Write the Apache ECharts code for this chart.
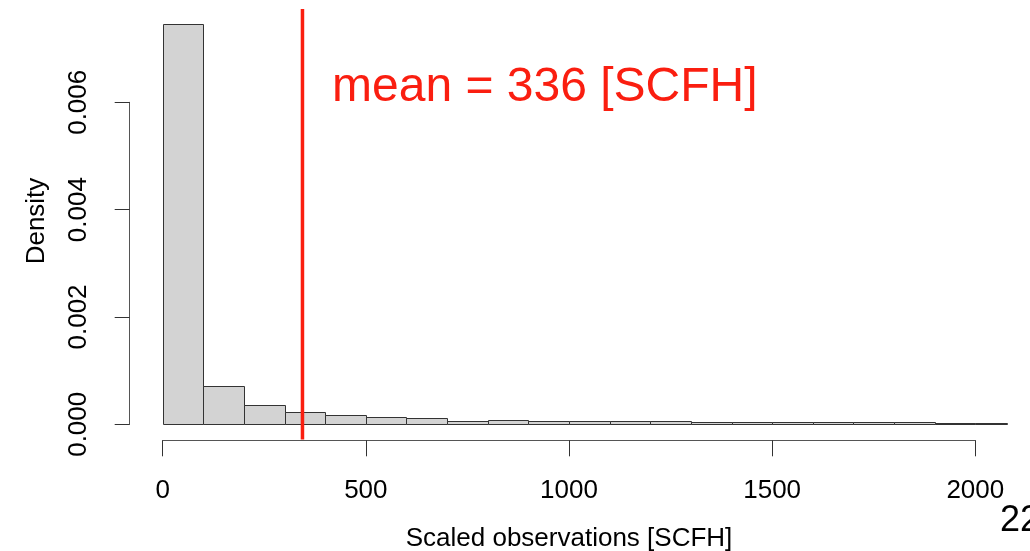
<!DOCTYPE html>
<html>
<head>
<meta charset="utf-8">
<script src="https://cdn.jsdelivr.net/npm/echarts@6/dist/echarts.min.js"></script>
<style>
html,body{margin:0;padding:0;background:#fff;}
#c{width:1030px;height:551px;}
</style>
</head>
<body>
<div id="c"></div>
<script>
// Histogram bins (bin start, bin end) and density values
const binStarts = [0,100,200,300,400,500,600,700,800,900,1000,1100,1200,1300,1400,1500,1600,1700,1800,1900,2000];
const binWidth = 100;
const densities = [0.00746,0.000714,0.000354,0.000235,0.000179,0.00013,0.000112,0.00007,0.000087,0.00007,0.000065,0.000055,0.000055,0.00004,0.00005,0.00005,0.000035,0.00004,0.000035,0.00003,0.000025];
const visibleXMax = 2078;          // right edge where the last bar is cut off
const xTicks = [0,500,1000,1500,2000];
const yTicks = [0,0.002,0.004,0.006];
const meanLineX = 344;             // drawn position of the mean line
const meanLineY = [0.00774,-0.000285];
const meanLabel = 'mean = 336 [SCFH]';
const xTitle = 'Scaled observations [SCFH]';
const yTitle = 'Density';
const pageNumber = '22';

const FONT = "'Liberation Sans', Arial, Helvetica, sans-serif";
const RED = '#fa1e10';

const histData = binStarts.map((s,i)=>[s, s+binWidth, densities[i]]);

const chart = echarts.init(document.getElementById('c'), null, {renderer:'canvas'});
chart.setOption({
  animation:false,
  backgroundColor:'#fff',
  grid:{left:162.7, right:1030-975.3, top:102.3, bottom:551-424.3, containLabel:false, outerBoundsMode:'none'},
  xAxis:{
    type:'value', min:xTicks[0], max:xTicks[xTicks.length-1], interval:500,
    offset:16,
    axisLine:{show:true, onZero:false, lineStyle:{color:'#555', width:1}},
    axisTick:{show:true, length:16, lineStyle:{color:'#333', width:1}},
    axisLabel:{fontSize:26, color:'#000', fontFamily:FONT, margin:38, showMinLabel:true, showMaxLabel:true,
      formatter:v=>String(v)},
    splitLine:{show:false},
    name:xTitle, nameLocation:'middle', nameGap:86,
    nameTextStyle:{fontSize:26, color:'#000', fontFamily:FONT}
  },
  yAxis:{
    type:'value', min:yTicks[0], max:yTicks[yTicks.length-1], interval:0.002,
    offset:33,
    axisLine:{show:true, onZero:false, lineStyle:{color:'#555', width:1}},
    axisTick:{show:true, length:15, lineStyle:{color:'#333', width:1}},
    axisLabel:{fontSize:26, color:'#000', fontFamily:FONT, margin:38, rotate:90,
      formatter:v=>v.toFixed(3), showMinLabel:true, showMaxLabel:true},
    splitLine:{show:false}
  },
  graphic:[
    {type:'text', x:37, y:221, rotation:Math.PI/2, z:10,
      style:{text:yTitle, font:'26px '+FONT, fill:'#000', align:'center', verticalAlign:'middle'}},
    {type:'text', x:332, y:88, z:10,
      style:{text:meanLabel, font:'48px '+FONT, fill:RED, align:'left', verticalAlign:'middle'}},
    {type:'text', x:1000, y:521, z:10,
      style:{text:pageNumber, font:'36px '+FONT, fill:'#000', align:'left', verticalAlign:'middle'}}
  ],
  series:[
    {
      type:'custom', clip:false, z:2,
      data:histData,
      encode:{x:[0,1], y:2},
      renderItem:function(params, api){
        const x0 = api.value(0);
        const x1 = Math.min(api.value(1), visibleXMax);
        const d = api.value(2);
        const p0 = api.coord([x0, 0]);
        const p1 = api.coord([x1, d]);
        return {type:'rect',
          shape:{x:Math.round(p0[0])+0.5, y:Math.round(p1[1])+0.5, width:Math.round(p1[0])-Math.round(p0[0]), height:Math.round(p0[1])-Math.round(p1[1])},
          style:{fill:'#d3d3d3', stroke:'#333', lineWidth:1}};
      }
    },
    {
      type:'line', clip:false, z:5, symbol:'none', silent:true,
      data:[[meanLineX, meanLineY[0]],[meanLineX, meanLineY[1]]],
      lineStyle:{color:RED, width:3.5}
    }
  ]
});
</script>
</body>
</html>
